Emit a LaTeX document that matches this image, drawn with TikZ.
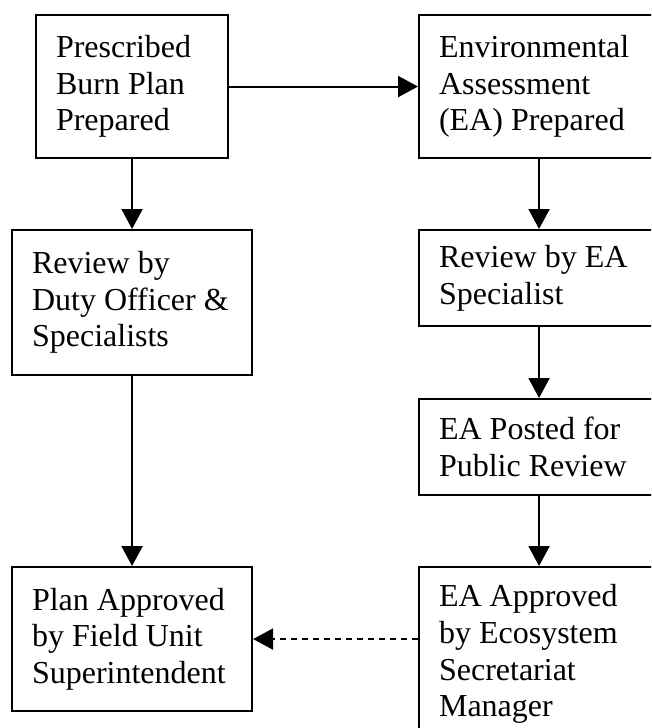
\documentclass[tikz,border=0pt]{standalone}
\usepackage{fontspec}
\setmainfont{Liberation Serif}
\usetikzlibrary{arrows.meta}
\tikzset{
  box/.style={draw, line width=2.1pt, anchor=north west, align=flush left,
    inner xsep=20pt, inner ysep=2pt,
    font=\fontsize{32}{36.7}\selectfont},
  flow/.style={line width=2.1pt, -{Triangle[length=20pt,width=21pt]}},
  dflow/.style={flow, dash pattern=on 6.5pt off 4.5pt}
}
\begin{document}
\begin{tikzpicture}[x=1pt,y=-1pt]
\useasboundingbox (0,0) rectangle (651,728);
\clip (0,0) rectangle (651,728);
\node[box, text width=152pt, minimum height=143pt] (A) at (35,14)
  {Prescribed\\Burn Plan\\Prepared};
\node[box, text width=200pt, minimum height=143pt] (B) at (418,14)
  {Environmental\\Assessment\\(EA) Prepared};
\node[box, text width=200pt, minimum height=145pt] (C) at (11,229)
  {Review by\\Duty~Officer~\&\\Specialists};
\node[box, text width=200pt, minimum height=96pt] (D) at (418,229)
  {Review by EA\\Specialist};
\node[box, text width=200pt, minimum height=96pt] (E) at (418,398)
  {EA Posted for\\Public Review};
\node[box, text width=200pt, minimum height=144pt] (F) at (11,566)
  {Plan Approved\\by Field Unit\\Superintendent};
\node[box, text width=200pt, minimum height=174pt] (G) at (418,566)
  {EA Approved\\by Ecosystem\\Secretariat\\Manager};
\draw[flow] (A.east) -- (B.west);
\draw[flow] (A.south) -- (C.north);
\draw[flow] (C.south) -- (F.north);
\draw[flow] (B.south) -- (D.north);
\draw[flow] (D.south) -- (E.north);
\draw[flow] (E.south) -- (G.north);
\draw[dflow] (F.east -| G.west) -- (F.east);
\end{tikzpicture}
\end{document}
